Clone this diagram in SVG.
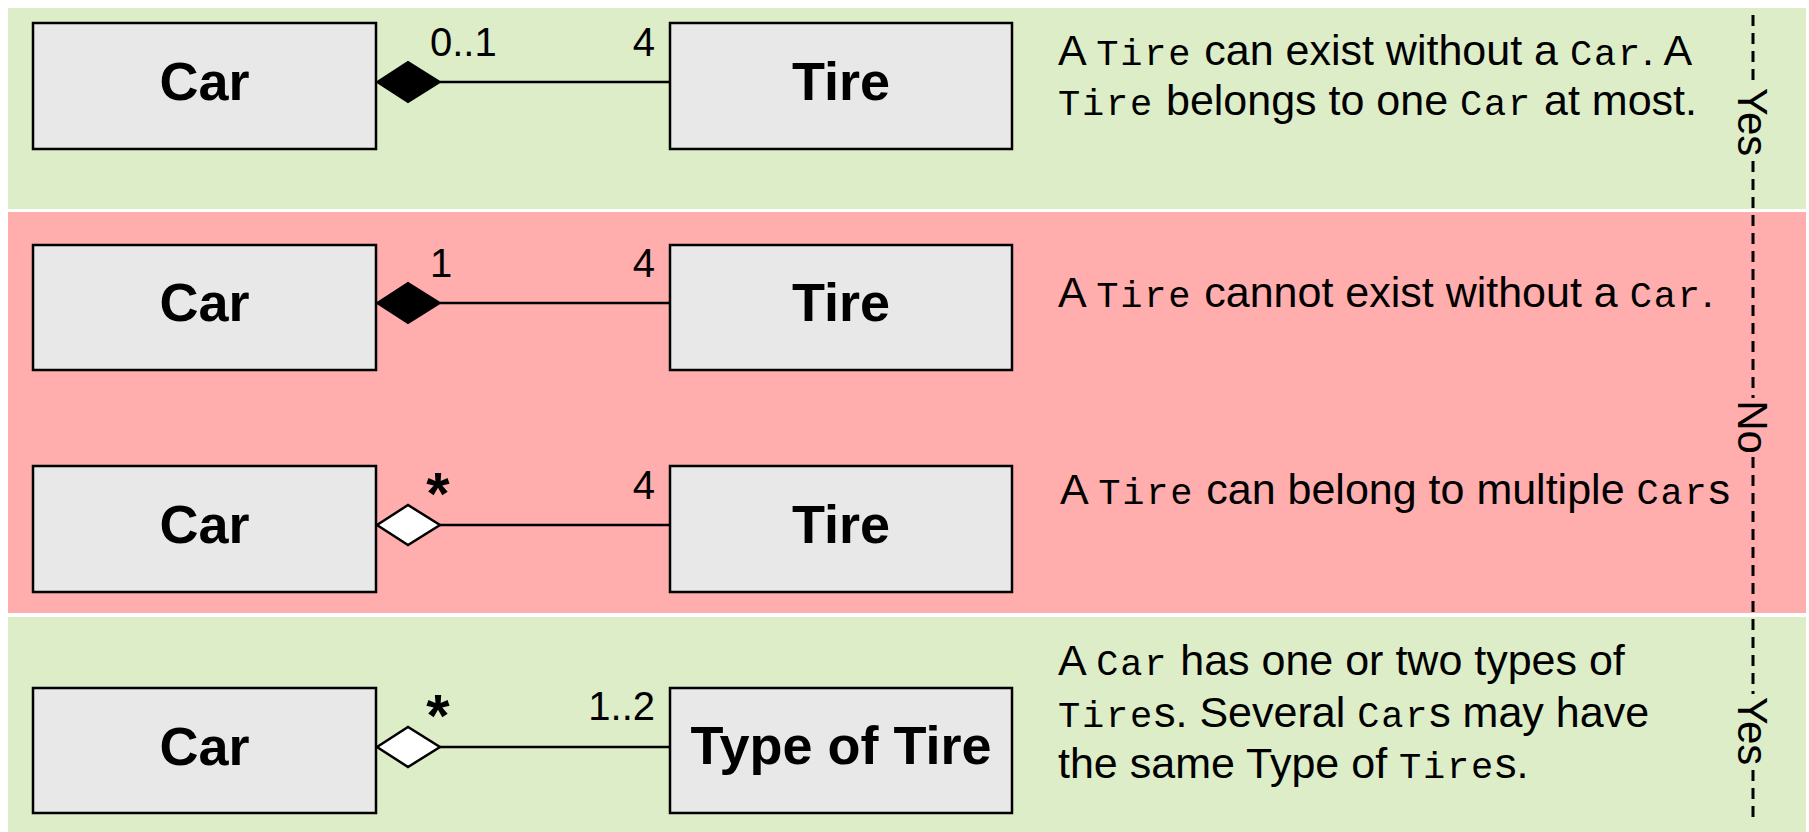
<svg xmlns="http://www.w3.org/2000/svg" width="1809" height="832" viewBox="0 0 1809 832">
<style>
.box{fill:#e8e8e8;stroke:#000;stroke-width:2.5}
.bt{font-family:"Liberation Sans",Arial,sans-serif;font-weight:bold;font-size:54px;text-anchor:middle;fill:#000}
.m{font-family:"Liberation Sans",Arial,sans-serif;font-size:40px;fill:#000}
.ast{font-family:"Liberation Sans",Arial,sans-serif;font-weight:bold;font-size:60px;text-anchor:middle;fill:#000}
.d{font-family:"Liberation Sans",Arial,sans-serif;font-size:43px;fill:#000}
.mono{font-family:"Liberation Mono","Courier New",monospace;font-size:37px;letter-spacing:1.8px}
.ln{stroke:#000;stroke-width:2.5;fill:none}
.fd{fill:#000;stroke:#000;stroke-width:2}
.od{fill:#fff;stroke:#000;stroke-width:2.5}
.dash{stroke:#000;stroke-width:3;stroke-dasharray:11 7;fill:none}
.lab{font-family:"Liberation Sans",Arial,sans-serif;font-size:42px;text-anchor:middle;fill:#000}
</style>
<rect width="1809" height="832" fill="#fff"/>
<g id="bands">
<rect x="8" y="8" width="1798" height="201" fill="#dcedc8"/>
<rect x="8" y="212" width="1798" height="401" fill="#ffadad"/>
<rect x="8" y="617" width="1798" height="215" fill="#dcedc8"/>
</g>
<g id="connectors">
<line class="ln" x1="440" y1="82" x2="670" y2="82"/>
<path class="fd" d="M377,82 L408,62 L440,82 L408,102 Z"/>
<line class="ln" x1="440" y1="303" x2="670" y2="303"/>
<path class="fd" d="M377,303 L408,283 L440,303 L408,323 Z"/>
<line class="ln" x1="440" y1="525" x2="670" y2="525"/>
<path class="od" d="M377,525 L408,505 L440,525 L408,545 Z"/>
<line class="ln" x1="440" y1="747" x2="670" y2="747"/>
<path class="od" d="M377,747 L408,727 L440,747 L408,767 Z"/>
</g>
<g id="multiplicities">
<text class="m" x="430" y="56">0..1</text>
<text class="m" x="655" y="56" text-anchor="end">4</text>
<text class="m" x="430" y="277">1</text>
<text class="m" x="655" y="277" text-anchor="end">4</text>
<text class="ast" x="438" y="514">*</text>
<text class="m" x="655" y="499" text-anchor="end">4</text>
<text class="ast" x="438" y="736">*</text>
<text class="m" x="655" y="720" text-anchor="end">1..2</text>
</g>
<g id="car1"><rect class="box" x="33" y="23" width="343" height="126"/><text class="bt" x="204.5" y="100">Car</text></g>
<g id="tire1"><rect class="box" x="670" y="23" width="342" height="126"/><text class="bt" x="841" y="100">Tire</text></g>
<g id="car2"><rect class="box" x="33" y="245" width="343" height="125"/><text class="bt" x="204.5" y="321">Car</text></g>
<g id="tire2"><rect class="box" x="670" y="245" width="342" height="125"/><text class="bt" x="841" y="321">Tire</text></g>
<g id="car3"><rect class="box" x="33" y="466" width="343" height="126"/><text class="bt" x="204.5" y="543">Car</text></g>
<g id="tire3"><rect class="box" x="670" y="466" width="342" height="126"/><text class="bt" x="841" y="543">Tire</text></g>
<g id="car4"><rect class="box" x="33" y="688" width="343" height="125"/><text class="bt" x="204.5" y="765">Car</text></g>
<g id="typeoftire"><rect class="box" x="670" y="688" width="342" height="125"/><text class="bt" x="841" y="764">Type of Tire</text></g>
<g id="descriptions">
<text class="d" x="1058" y="65">A <tspan class="mono">Tire</tspan> can exist without a <tspan class="mono">Car</tspan>. A</text>
<text class="d" x="1058" y="115"><tspan class="mono">Tire</tspan> belongs to one <tspan class="mono">Car</tspan> at most.</text>
<text class="d" x="1058" y="307">A <tspan class="mono">Tire</tspan> cannot exist without a <tspan class="mono">Car</tspan>.</text>
<text class="d" x="1060" y="504">A <tspan class="mono">Tire</tspan> can belong to multiple <tspan class="mono">Car</tspan>s</text>
<text class="d" x="1058" y="675">A <tspan class="mono">Car</tspan> has one or two types of</text>
<text class="d" x="1058" y="727"><tspan class="mono">Tire</tspan>s. Several <tspan class="mono">Car</tspan>s may have</text>
<text class="d" x="1058" y="778">the same Type of <tspan class="mono">Tire</tspan>s.</text>
</g>
<g id="verdicts">
<line class="dash" x1="1753" y1="15" x2="1753" y2="85"/>
<line class="dash" x1="1753" y1="161" x2="1753" y2="398"/>
<line class="dash" x1="1753" y1="457" x2="1753" y2="694"/>
<line class="dash" x1="1753" y1="770" x2="1753" y2="822"/>
<text class="lab" transform="translate(1738,122) rotate(90)">Yes</text>
<text class="lab" transform="translate(1738,427) rotate(90)">No</text>
<text class="lab" transform="translate(1738,731) rotate(90)">Yes</text>
</g>
</svg>
